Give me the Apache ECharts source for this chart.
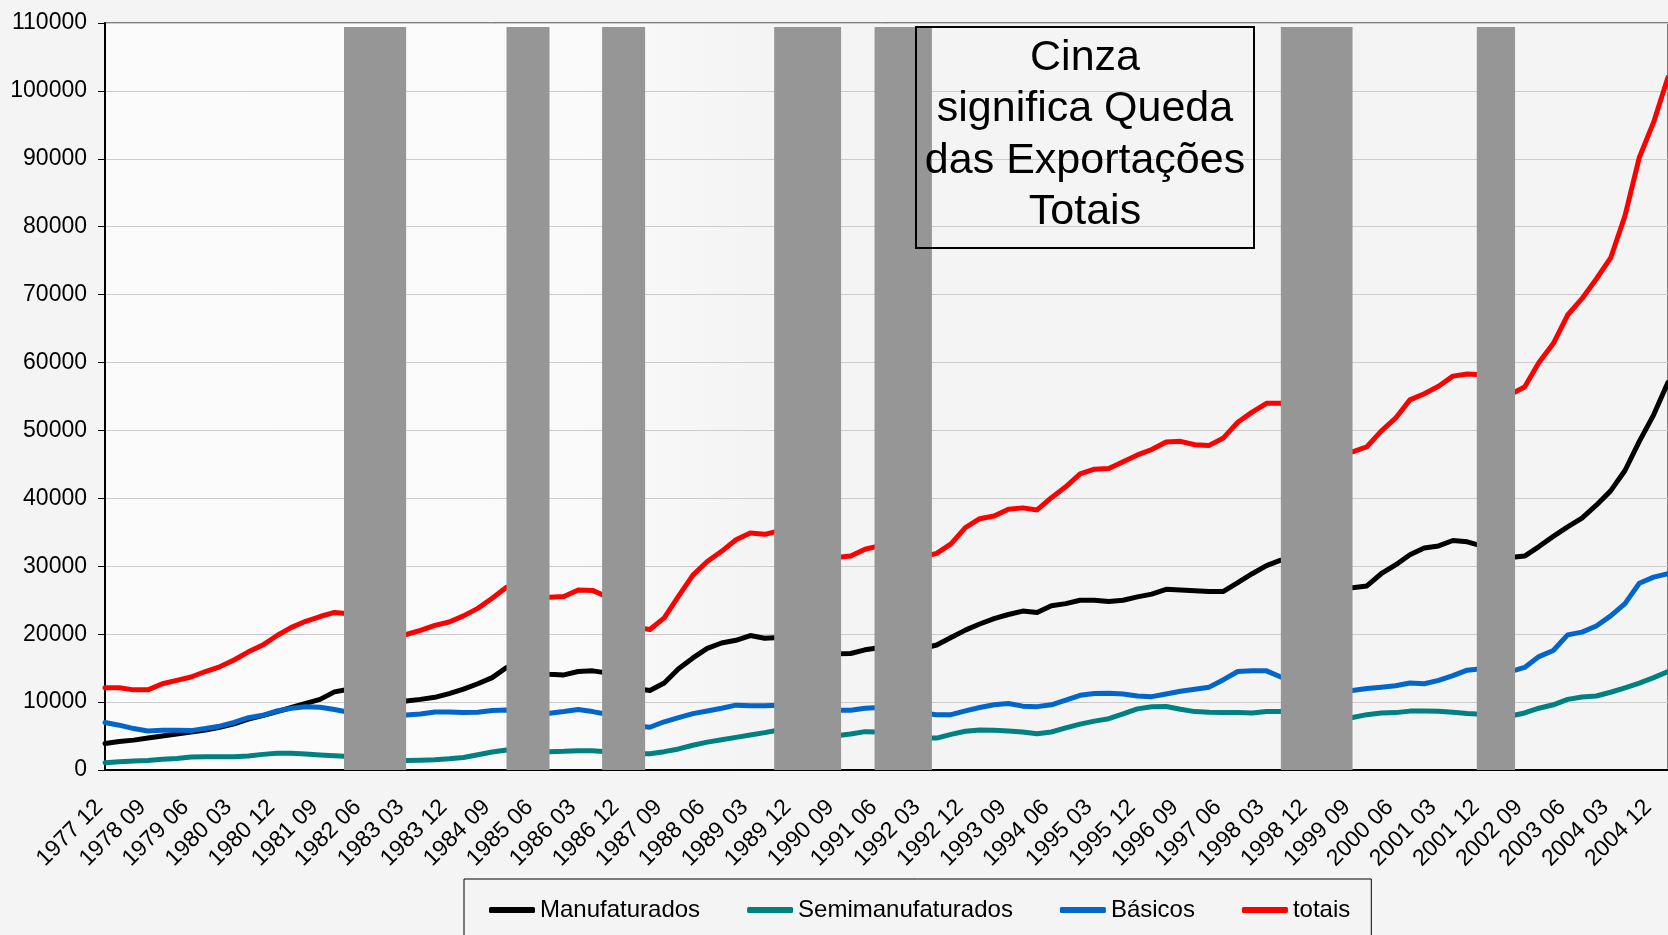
<!DOCTYPE html>
<html>
<head>
<meta charset="utf-8">
<script src="https://cdn.jsdelivr.net/npm/echarts@6/dist/echarts.min.js"></script>
<style>
  html, body { margin: 0; padding: 0; background: #f4f4f4; }
  #exportChart { width: 1668px; height: 935px; }
</style>
</head>
<body>
<div id="exportChart"></div>
<script>
// meses de 1977 12 a 2005 03 (eixo de categorias)
const meses = [];
for (let n = 0, ano = 1977, mes = 12; n < 328; n++) {
  meses.push(ano + ' ' + (mes < 10 ? '0' + mes : '' + mes));
  mes++;
  if (mes > 12) { mes = 1; ano++; }
}

// valores trimestrais (a cada 3 meses a partir de 1977 12), US$ milhões, acumulado 12 meses
const manufaturados = [
  3900, 4200, 4400, 4700, 5000, 5300, 5600, 5900, 6300, 6800,
  7500, 8000, 8600, 9200, 9800, 10400, 11500, 11900, 11600, 11000,
  10400, 10160, 10400, 10700, 11250, 11900, 12700, 13600, 15100, 14800,
  14400, 14100, 14000, 14500, 14600, 14300, 13300, 12000, 11700, 12800,
  14900, 16500, 17900, 18700, 19100, 19800, 19400, 19500, 19000, 18400,
  17700, 17100, 17150, 17700, 18000, 18000, 17900, 17900, 18400, 19500,
  20600, 21500, 22300, 22900, 23400, 23200, 24200, 24500, 25000, 25000,
  24800, 25000, 25500, 25900, 26600, 26500, 26400, 26300, 26300, 27600,
  28900, 30100, 30900, 30500, 29500, 28300, 27300, 26850, 27100, 28900,
  30200, 31700, 32700, 33000, 33800, 33600, 33000, 32300, 31300, 31500,
  32900, 34400, 35800, 37100, 39000, 41100, 44100, 48400, 52300, 57100
];
const semimanufaturados = [
  1080, 1200, 1330, 1400, 1570, 1700, 1900, 1960, 1960, 1960,
  2060, 2300, 2450, 2460, 2350, 2210, 2100, 2000, 1800, 1600,
  1500, 1400, 1450, 1500, 1650, 1850, 2250, 2650, 2950, 2900,
  2750, 2700, 2750, 2850, 2850, 2700, 2500, 2400, 2400, 2700,
  3100, 3650, 4100, 4450, 4800, 5150, 5500, 5900, 5800, 5600,
  5300, 5050, 5300, 5650, 5600, 5300, 5000, 4700, 4700, 5250,
  5700, 5900, 5850, 5750, 5600, 5350, 5600, 6200, 6750, 7200,
  7550, 8250, 9000, 9300, 9350, 8950, 8600, 8500, 8450, 8450,
  8400, 8600, 8600, 8400, 8200, 8000, 7800, 7730, 8150, 8400,
  8450, 8670, 8670, 8650, 8500, 8310, 8200, 8100, 7950, 8400,
  9100, 9600, 10400, 10750, 10900, 11450, 12100, 12800, 13600, 14500
];
const basicos = [
  7000, 6600, 6100, 5750, 5850, 5850, 5800, 6100, 6450, 7000,
  7700, 8050, 8700, 9100, 9300, 9250, 8900, 8500, 8300, 8200,
  8100, 8100, 8250, 8550, 8550, 8450, 8500, 8750, 8850, 8700,
  8500, 8350, 8600, 8900, 8600, 8200, 7300, 6500, 6300, 7100,
  7700, 8300, 8700, 9100, 9550, 9450, 9450, 9550, 9400, 9200,
  9000, 8800, 8800, 9100, 9200, 9000, 8700, 8400, 8150, 8150,
  8700, 9200, 9600, 9800, 9400, 9330, 9600, 10300, 11000, 11250,
  11300, 11200, 10900, 10800, 11200, 11600, 11900, 12200, 13300, 14500,
  14600, 14600, 13700, 13200, 12600, 12100, 11800, 11720, 12000, 12200,
  12400, 12800, 12700, 13200, 13900, 14700, 14900, 15000, 14500, 15100,
  16700, 17600, 19900, 20300, 21200, 22700, 24500, 27500, 28400, 28900
];
const totais = [
  12100, 12100, 11800, 11800, 12700, 13200, 13700, 14500, 15200, 16200,
  17400, 18400, 19800, 21000, 21900, 22600, 23200, 23000, 22200, 21300,
  20500, 19950, 20550, 21300, 21800, 22700, 23800, 25300, 26900, 26500,
  25900, 25450, 25550, 26500, 26450, 25500, 23500, 21000, 20700, 22400,
  25600, 28700, 30700, 32200, 33900, 34900, 34700, 35200, 34600, 33300,
  32000, 31300, 31500, 32500, 33000, 32500, 31900, 31400, 31900, 33300,
  35700, 37000, 37400, 38400, 38600, 38300, 40100, 41700, 43600, 44300,
  44400, 45400, 46400, 47200, 48300, 48400, 47900, 47800, 48900, 51200,
  52700, 54000, 54000, 52500, 51000, 49000, 47500, 46850, 47600, 49900,
  51800, 54500, 55400, 56500, 58000, 58300, 58200, 57000, 55300, 56400,
  60000, 62800, 67000, 69400, 72300, 75400, 81600, 90200, 95400, 102000
];

// periodos de queda das exportacoes totais (faixas cinza)
const quedaInicio = ['1982 02', '1984 12', '1986 08', '1989 08', '1991 05', '1998 06', '2001 11'];
const quedaFim = ['1983 03', '1985 09', '1987 05', '1990 10', '1992 05', '1999 09', '2002 07'];
const alturaFaixa = 109400;

const nomes = ['Manufaturados', 'Semimanufaturados', 'Básicos', 'totais'];
const cores = ['#000000', '#008080', '#0066cc', '#ff0000'];
const valores = [manufaturados, semimanufaturados, basicos, totais];

const fonte = '"Liberation Sans", Arial, sans-serif';
const exportChart = echarts.init(document.getElementById('exportChart'));

const faixas = [];
for (let n = 0; n < quedaInicio.length; n++) {
  faixas.push([
    { xAxis: quedaInicio[n], yAxis: 0 },
    { xAxis: quedaFim[n], yAxis: alturaFaixa }
  ]);
}

const series = nomes.map(function(nome, s) {
  return {
    name: nome,
    type: 'line',
    symbol: 'none',
    showSymbol: false,
    lineStyle: { color: cores[s], width: 5, join: 'round', cap: 'round' },
    itemStyle: { color: cores[s] },
    data: valores[s].map(function(v, k) { return [k * 3, v]; })
  };
});
series[3].markArea = {
  silent: true,
  z: 10,
  label: { show: false },
  itemStyle: { color: '#969696', opacity: 1, borderWidth: 0 },
  data: faixas
};

exportChart.setOption({
  animation: false,
  backgroundColor: '#f4f4f4',
  textStyle: { fontFamily: fonte },
  grid: {
    left: 105,
    right: -2,
    top: 23,
    bottom: 165,
    show: true,
    borderColor: '#7f7f7f',
    borderWidth: 2,
    backgroundColor: {
      type: 'linear', x: 0, y: 0, x2: 1, y2: 0,
      colorStops: [
        { offset: 0, color: '#fbfbfb' },
        { offset: 0.3, color: '#fafafa' },
        { offset: 0.42, color: '#f4f4f4' },
        { offset: 1, color: '#f4f4f4' }
      ]
    }
  },
  legend: {
    data: nomes,
    left: 464,
    top: 879,
    orient: 'horizontal',
    icon: 'roundRect',
    itemWidth: 46,
    itemHeight: 6,
    itemGap: 47,
    padding: [19, 21, 40, 25],
    borderColor: '#000',
    borderWidth: 1,
    textStyle: { fontSize: 24, color: '#000', fontFamily: fonte }
  },
  xAxis: {
    type: 'category',
    data: meses,
    boundaryGap: false,
    axisLine: { lineStyle: { color: '#000', width: 2 } },
    axisTick: { show: false },
    splitLine: { show: false },
    axisLabel: {
      interval: function(idx) { return idx % 9 === 0; },
      rotate: 45,
      margin: 28,
      padding: [0, 8, 0, 0],
      fontSize: 23,
      color: '#000',
      fontFamily: fonte
    }
  },
  yAxis: {
    type: 'value',
    min: 0,
    max: 110000,
    interval: 10000,
    axisLine: { show: true, lineStyle: { color: '#000', width: 2 } },
    axisTick: { show: true, length: 7, lineStyle: { color: '#000', width: 1 } },
    axisLabel: {
      fontSize: 23,
      color: '#000',
      margin: 18,
      fontFamily: fonte,
      formatter: function(v) { return String(v); }
    },
    splitLine: { lineStyle: { color: '#cccccc', width: 1 } }
  },
  graphic: {
    elements: [
      {
        type: 'rect',
        z: 100,
        shape: { x: 916, y: 27, width: 338, height: 221 },
        style: { fill: 'rgba(0,0,0,0)', stroke: '#000', lineWidth: 2 }
      },
      {
        type: 'text',
        z: 101,
        x: 1085,
        y: 32,
        style: {
          text: 'Cinza\nsignifica Queda\ndas Exportações\nTotais',
          font: '43px "Liberation Sans", Arial, sans-serif',
          lineHeight: 51.5,
          fill: '#000',
          align: 'center',
          verticalAlign: 'top'
        }
      }
    ]
  },
  series: series
});

window.addEventListener('resize', function() {
  exportChart.resize();
});
</script>
</body>
</html>
